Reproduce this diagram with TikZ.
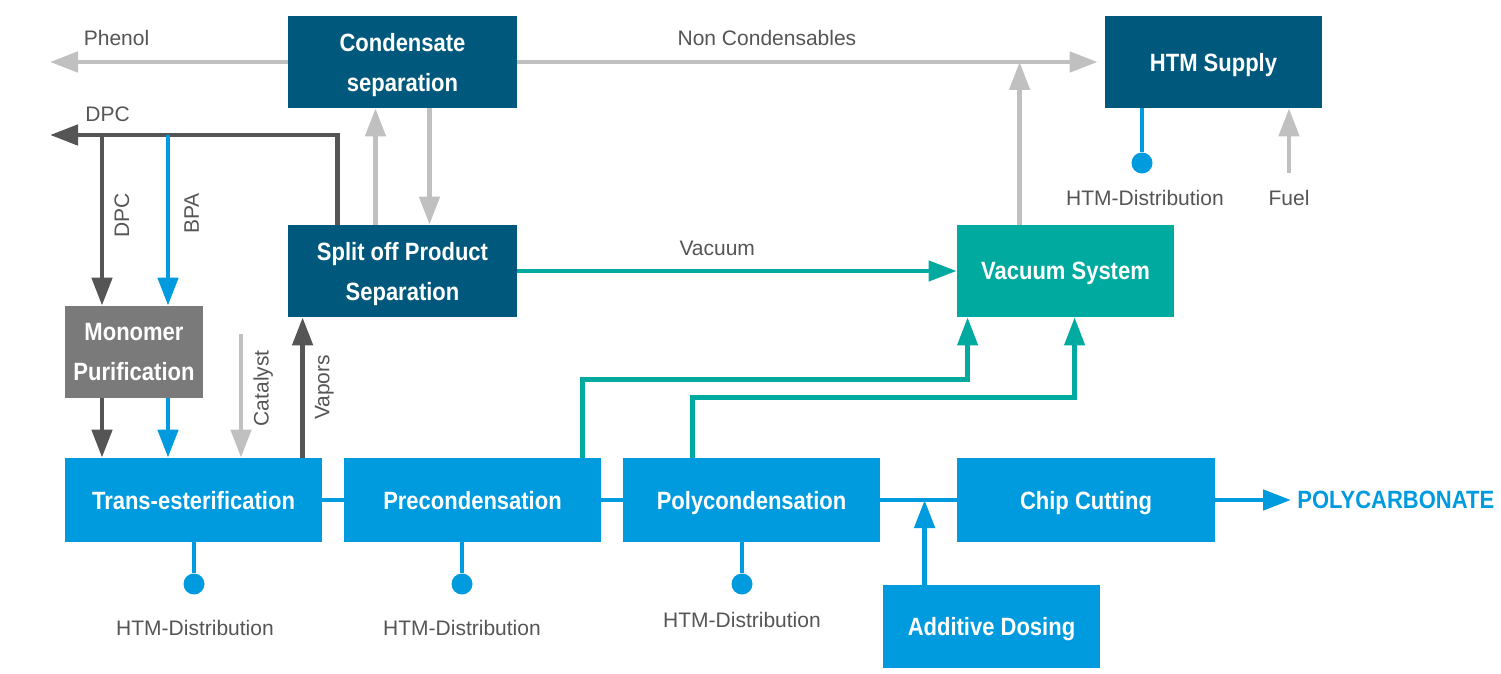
\documentclass[tikz,border=0pt]{standalone}
\usepackage{fontspec}
\setmainfont{Liberation Sans}
\newfontfamily\boxfont[FakeStretch=0.88]{Liberation Sans}
\usepackage{tikz}
\usetikzlibrary{arrows.meta, positioning, calc}
\definecolor{darkblue}{RGB}{0,89,125}
\definecolor{boxblue}{RGB}{0,155,223}
\definecolor{tealgreen}{RGB}{0,170,158}
\definecolor{boxgrey}{RGB}{122,122,122}
\definecolor{lightgrey}{RGB}{192,192,192}
\definecolor{darkline}{RGB}{85,85,85}
\definecolor{textgrey}{RGB}{85,85,85}

\begin{document}
\begin{tikzpicture}[x=0.5pt, y=-0.5pt,
    box/.style={inner sep=0pt, align=center, text=white, minimum height=46pt, text depth=0pt,
        font=\boxfont\bfseries\fontsize{12.5}{20}\selectfont},
    darkbox/.style={box, fill=darkblue},
    tealbox/.style={box, fill=tealgreen},
    greybox/.style={box, fill=boxgrey},
    bluebox/.style={box, fill=boxblue, minimum width=128.5pt, minimum height=42pt},
    lbl/.style={text=textgrey, inner sep=0pt, font=\fontsize{10.5}{12}\selectfont},
    rlbl/.style={lbl, rotate=90, anchor=north, inner xsep=0pt, inner ysep=5pt},
    prod/.style={text=boxblue, inner sep=0pt, font=\boxfont\bfseries\fontsize{12.5}{15}\selectfont},
    tip/.style={-{Triangle[width=10pt,length=14pt]}},
    greyarr/.style={tip, draw=lightgrey, line width=2.4pt},
    darkarr/.style={tip, draw=darkline, line width=2.4pt},
    bluearr/.style={tip, draw=boxblue, line width=2.4pt},
    tealarr/.style={tip, draw=tealgreen, line width=2.2pt},
    blueline/.style={draw=boxblue, line width=2.4pt},
    dot/.style={circle, fill=boxblue, minimum size=10.5pt, inner sep=0pt}]
    \useasboundingbox (0,0) rectangle (1501,674);

    % Boxes
    \node[darkbox, minimum width=114.5pt] (cond) at (402.5,62) {Condensate\\separation};
    \node[darkbox, minimum width=114.5pt] (split) at (402.5,271) {Split off Product\\Separation};
    \node[darkbox, minimum width=108.5pt] (htm) at (1213.5,62) {HTM Supply};
    \node[tealbox, minimum width=108.5pt] (vac) at (1065.5,271) {Vacuum System};
    \node[greybox, minimum width=69pt] (mono) at (134,352) {Monomer\\Purification};
    \node[bluebox] (trans) at (193.5,500) {Trans-esterification};
    \node[bluebox] (pre) at (472.5,500) {Precondensation};
    \node[bluebox] (poly) at (751.5,500) {Polycondensation};
    \node[bluebox, minimum width=129pt] (chip) at (1086,500) {Chip Cutting};
    \node[bluebox, minimum width=108.5pt, minimum height=41.5pt] (add) at (991.5,626.5) {Additive Dosing};
    \node[prod, anchor=west] (pc) at (1297,500) {POLYCARBONATE};

    % Free ends
    \coordinate (phenolEnd) at (50,62);
    \coordinate (dpcEnd) at (50,135);
    \coordinate (dpcOut) at ($(split.north west)+(50,0)$);
    \coordinate (dpcIn) at (102,135);
    \coordinate (bpaIn) at (168,135);
    \coordinate (catIn) at (241,334);
    \coordinate (vapOut) at ($(trans.north west)+(238,0)$);
    \coordinate (ncUp) at ($(vac.north west)+(63,0)$);
    \coordinate (fuelIn) at (1289,173);
    \coordinate (preOut) at ($(pre.north west)+(239,0)$);
    \coordinate (polyOut) at ($(poly.north west)+(70,0)$);
    \coordinate (vacInA) at ($(vac.south west)+(11,0)$);
    \coordinate (vacInB) at ($(vac.south west)+(118,0)$);
    \coordinate (addIn) at ($(add.north west)+(42,0)$);

    % Condensate streams
    \draw[greyarr] (cond.west) -- (phenolEnd) node[lbl, pos=0.72, above=7pt] (phenol) {Phenol};
    \draw[greyarr, shorten >=3.5pt] (cond.east) -- (htm.west)
        node[lbl, pos=0.425, above=7pt] (noncond) {Non Condensables};
    \draw[greyarr] (ncUp) -- (ncUp |- cond.east);
    \draw[greyarr] ($(split.north)+(-27,0)$) -- ($(cond.south)+(-27,0)$);
    \draw[greyarr] ($(cond.south)+(27,0)$) -- ($(split.north)+(27,0)$);

    % Monomers
    \draw[darkarr] (dpcOut) |- (dpcEnd) node[lbl, pos=0.9, above=5.5pt] (dpcTop) {DPC};
    \draw[darkarr] (dpcIn) -- (dpcIn |- mono.north) node[rlbl, pos=0.47] (dpcLbl) {DPC};
    \draw[bluearr] (bpaIn) -- (bpaIn |- mono.north) node[rlbl, pos=0.46, inner ysep=7pt] (bpaLbl) {BPA};
    \draw[darkarr] (dpcIn |- mono.south) -- (dpcIn |- trans.north);
    \draw[bluearr] (bpaIn |- mono.south) -- (bpaIn |- trans.north);
    \draw[greyarr] (catIn) -- (catIn |- trans.north) node[rlbl, pos=0.44] (catLbl) {Catalyst};
    \draw[darkarr] (vapOut) -- (vapOut |- split.south) node[rlbl, pos=0.5] (vapLbl) {Vapors};

    % Vacuum
    \draw[tealarr] (split.east) -- (vac.west) node[lbl, pos=0.455, above=6.5pt] (vacLbl) {Vacuum};
    \draw[tealarr] (preOut) -- ++(0,-78) -| (vacInA);
    \draw[tealarr] (polyOut) -- ++(0,-60) -| (vacInB);

    % Main line
    \draw[blueline] (trans.east) -- (pre.west);
    \draw[blueline] (pre.east) -- (poly.west);
    \draw[blueline] (poly.east) -- (chip.west);
    \draw[bluearr] (addIn) -- (addIn |- poly.east);
    \draw[bluearr, shorten >=3pt] (chip.east) -- (chip.east -| pc.west);

    % HTM
    \node[dot] (dotTrans) at (194,584) {};
    \node[dot] (dotPre) at (462,584) {};
    \node[dot] (dotPoly) at (742,584) {};
    \node[dot] (dotHtm) at (1142,163) {};
    \draw[blueline] (trans.south -| dotTrans) -- (dotTrans);
    \draw[blueline] (pre.south -| dotPre) -- (dotPre);
    \draw[blueline] (poly.south -| dotPoly) -- (dotPoly);
    \draw[blueline] (htm.south -| dotHtm) -- (dotHtm);
    \node[lbl] (htmTrans) at (195,628) {HTM-Distribution};
    \node[lbl] (htmPre) at (462,628) {HTM-Distribution};
    \node[lbl] (htmPoly) at (742,620) {HTM-Distribution};
    \node[lbl] (htmTop) at (1145,198) {HTM-Distribution};
    \node[lbl] (fuel) at (1289,198) {Fuel};
    \draw[greyarr] (fuelIn) -- (fuelIn |- htm.south);
\end{tikzpicture}
\end{document}
